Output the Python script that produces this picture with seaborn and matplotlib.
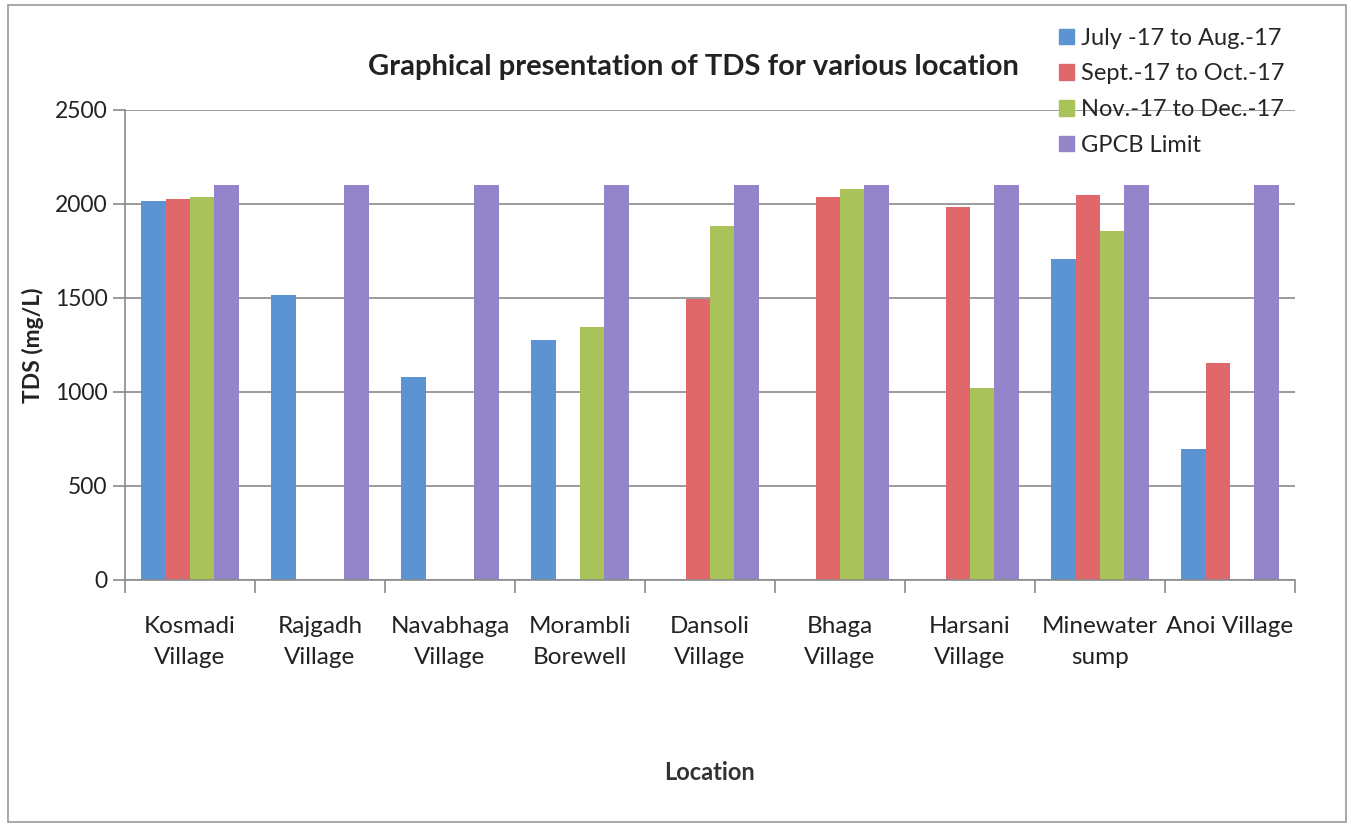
import seaborn as sns
import pandas as pd
import matplotlib.pyplot as plt
from matplotlib.patches import Rectangle

# Data
locations = ["Kosmadi\nVillage", "Rajgadh\nVillage", "Navabhaga\nVillage", "Morambli\nBorewell",
             "Dansoli\nVillage", "Bhaga\nVillage", "Harsani\nVillage", "Minewater\nsump", "Anoi Village"]
periods = ["July -17 to Aug.-17", "Sept.-17 to Oct.-17", "Nov.-17 to Dec.-17", "GPCB Limit"]
july_aug = [2014, 1515, 1080, 1275, 0, 0, 0, 1705, 695]
sept_oct = [2026, 0, 0, 0, 1495, 2035, 1985, 2045, 1155]
nov_dec = [2035, 0, 0, 1345, 1880, 2080, 1020, 1855, 0]
gpcb_limit = [2100, 2100, 2100, 2100, 2100, 2100, 2100, 2100, 2100]
colors = ["#5b93d3", "#e0676a", "#a9c25a", "#9484c9"]

rows = []
for series, vals in zip(periods, [july_aug, sept_oct, nov_dec, gpcb_limit]):
    for loc, v in zip(locations, vals):
        rows.append({"Location": loc, "Period": series, "TDS": v})
df = pd.DataFrame(rows)

sns.set_style("white")
plt.rcParams['font.family'] = ['Lato', 'DejaVu Sans']

fig = plt.figure(figsize=(13.51, 8.25), dpi=100)
ax = fig.add_axes([0.0925, 0.297, 0.866, 0.57])

sns.barplot(data=df, x="Location", y="TDS", hue="Period", palette=colors,
            width=0.75, linewidth=0, saturation=1, ax=ax, legend=False)

ax.set_ylim(0, 2500)
ax.set_xlim(-0.5, len(locations) - 0.5)
ax.set_yticks(range(0, 2501, 500))
ax.yaxis.grid(True, color="#8a8a8a", linewidth=1.2)
ax.set_axisbelow(True)
for s in ["top", "right"]:
    ax.spines[s].set_visible(False)
for s in ["left", "bottom"]:
    ax.spines[s].set_color("#8a8a8a")
    ax.spines[s].set_linewidth(1.2)

# category divider ticks
ax.set_xticks([i - 0.5 for i in range(len(locations) + 1)], minor=True)
ax.tick_params(axis="x", which="minor", length=9, color="#8a8a8a", width=1.2, direction="out", bottom=True)
ax.tick_params(axis="x", which="major", length=0, labelsize=17.5, pad=26, labelcolor="#222222")
for lbl in ax.get_xticklabels():
    lbl.set_linespacing(1.6)
ax.tick_params(axis="y", length=9, color="#8a8a8a", width=1.2, direction="out", left=True,
               labelsize=16.5, labelcolor="#222222")

ax.set_xlabel("Location", fontsize=17, fontweight="bold", color="#333333", labelpad=67)
ax.set_ylabel("TDS (mg/L)", fontsize=16.5, fontweight="bold", color="#222222", labelpad=8)

fig.text(0.513, 0.919, "Graphical presentation of TDS for various location",
         ha="center", va="center", fontsize=21, fontweight="bold", color="#222222")

handles = [Rectangle((0, 0), 1, 1, color=c) for c in colors]
fig.legend(handles, periods, loc="upper left", bbox_to_anchor=(0.768, 0.992), frameon=False,
           fontsize=17, handlelength=0.65, handleheight=0.65, handletextpad=0.3, labelspacing=0.62)

# chart area border
fig.patches.append(Rectangle((0.006, 0.004), 0.99, 0.99, transform=fig.transFigure,
                             fill=False, edgecolor="#9a9a9a", linewidth=1.2))

plt.savefig("out.png", dpi=100)
